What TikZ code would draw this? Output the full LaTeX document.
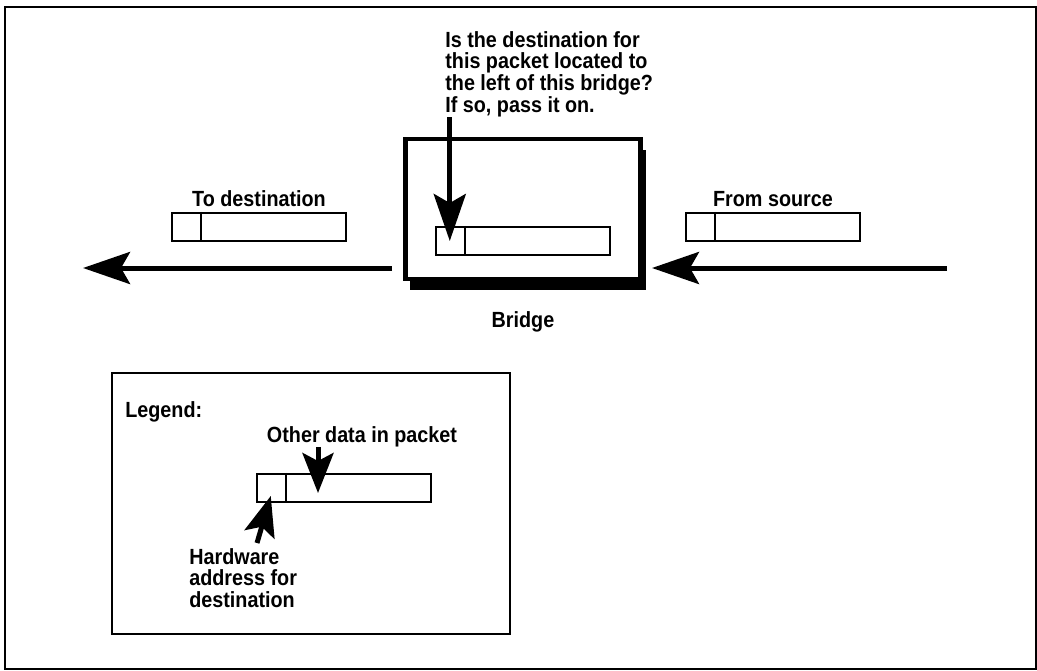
\documentclass[tikz,border=0pt]{standalone}
\usepackage{fontspec}
\setmainfont{Liberation Sans}[FakeStretch=0.9]
\usetikzlibrary{arrows.meta,positioning,calc,shadows}

\tikzset{
  txt/.style={inner sep=0pt, font=\bfseries\fontsize{12.5pt}{12.35pt}\selectfont},
  packet/.style={draw, line width=0.5mm, minimum width=3.48cm, minimum height=0.56cm, inner sep=0pt},
  bigarrow/.style={line width=1mm, -{Stealth[length=9.4mm, width=6.4mm, inset=1.8mm]}},
  smallarrow/.style={line width=1mm, -{Stealth[length=8mm, width=6.2mm, inset=1.6mm]}},
  bridgebox/.style={draw, line width=0.9mm, fill=white, minimum width=4.71cm, minimum height=2.81cm,
    drop shadow={shadow xshift=1mm, shadow yshift=-2.2mm, fill=black, opacity=1}},
}

% packet with address cell: node (#1), cell centre (#1-addr)
\newcommand{\packet}[2]{%
  \node[packet] (#1) at (#2) {};
  \draw[line width=0.5mm] ($(#1.north west)+(30,0)$) coordinate (#1-cut) -- (#1-cut |- #1.south);
  \coordinate (#1-addr) at ($(#1.west)+(15,0)$);
}

\begin{document}
\begin{tikzpicture}[x=0.02cm, y=-0.02cm]
  \useasboundingbox (0,0) rectangle (1037,670);
  \draw[line width=0.4mm] (5,7) rectangle (1036,669);

  % bridge
  \node[bridgebox] (bridge) at (523,209) {};
  \node[txt, below=6mm of bridge] (brlabel) {Bridge};
  \packet{brpkt}{523,241}
  \node[txt, align=left, anchor=north west] (question) at (445,31)
    {Is the destination for\\this packet located to\\the left of this bridge?\\If so, pass it on.};
  \draw[bigarrow] (question.south -| brpkt-addr) -- (brpkt-addr);

  % packets on the line
  \packet{srcpkt}{773,227}
  \node[txt, above=1mm of srcpkt] (srclabel) {From source};
  \packet{dstpkt}{259,227}
  \node[txt, above=1mm of dstpkt] (dstlabel) {To destination};

  \coordinate (srcend) at (947,268);
  \coordinate (dstend) at (83,268);
  \draw[bigarrow, shorten >=1.8mm] (srcend) -- (srcend -| bridge.east);
  \draw[bigarrow, shorten <=2.2mm] (dstend -| bridge.west) -- (dstend);

  % legend
  \draw[line width=0.4mm] (112,373) rectangle (510,634);
  \node[txt, anchor=base west] (legendlabel) at (125,417) {Legend:};
  \packet{lgpkt}{344,488}
  \node[txt, anchor=base] (datalabel) at (362,442) {Other data in packet};
  \node[txt, align=left, anchor=north west] (hwlabel) at (189,548) {Hardware\\address for\\destination};
  \coordinate (lgdata) at (318,493);
  \coordinate (hwtail) at (257,543);
  \draw[smallarrow] (datalabel.south -| lgdata) -- (lgdata);
  \draw[smallarrow] (hwtail) -- ($(lgpkt-addr)+(0,8)$);
\end{tikzpicture}
\end{document}
